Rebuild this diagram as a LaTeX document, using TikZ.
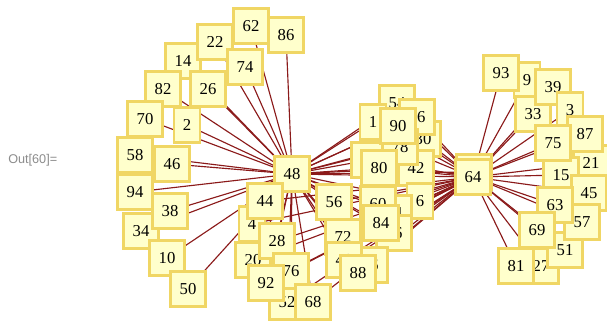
\documentclass[tikz,border=0pt]{standalone}
\usepackage{fontspec}
\setmainfont{Liberation Serif}
\newfontfamily\promptfont{Liberation Sans}
\usetikzlibrary{backgrounds}
\definecolor{vfill}{RGB}{255,255,204}
\definecolor{vframe}{RGB}{240,214,100}
\definecolor{edgered}{RGB}{139,26,26}

\begin{document}
\begin{tikzpicture}[x=0.75pt, y=-0.75pt,
  every node/.style={font=\fontsize{12.5}{14}\selectfont},
  vbox/.style={draw=vframe, fill=vfill, line width=1.6pt, minimum width=26.2pt, minimum height=26.2pt, inner sep=1pt},
  vone/.style={vbox, minimum width=19.4pt},
  edge/.style={draw=edgered, line width=0.85pt},
  prompt/.style={font=\promptfont\fontsize{9.5}{11}\selectfont, text=black!45, anchor=west, inner sep=0pt}]
  \useasboundingbox (0,0) rectangle (607,321);
  \node[prompt] (out) at (8,160) {Out[60]=};
  % left fan
  \node[vbox] (n14) at (183,61) {14};
  \node[vbox] (n22) at (215,42) {22};
  \node[vbox] (n62) at (251,26) {62};
  \node[vbox] (n86) at (286,35) {86};
  \node[vbox] (n74) at (245,67) {74};
  \node[vbox] (n26) at (208,89) {26};
  \node[vbox] (n82) at (163,89) {82};
  \node[vone] (n2) at (187,125) {2};
  \node[vbox] (n58) at (135,155) {58};
  \node[vbox] (n70) at (145,119) {70};
  \node[vbox] (n46) at (172,164) {46};
  \node[vbox] (n94) at (135,192) {94};
  \node[vbox] (n34) at (141,231) {34};
  \node[vbox] (n38) at (170,211) {38};
  \node[vbox] (n10) at (167,258) {10};
  \node[vbox] (n50) at (188,289) {50};
  % lower group
  \node[vone] (n4) at (252,224) {4};
  \node[vbox] (n52) at (287,302) {52};
  \node[vbox] (n20) at (253,260) {20};
  \node[vbox] (n48) at (292,174) {48};
  \node[vbox] (n44) at (265,201) {44};
  \node[vbox] (n28) at (277,241) {28};
  \node[vbox] (n76) at (291,271) {76};
  \node[vbox] (n92) at (266,283) {92};
  \node[vbox] (n68) at (313,302) {68};
  % middle group
  \node[vbox] (n12) at (369,160) {12};
  \node[vbox] (n30) at (423,139) {30};
  \node[vbox] (n54) at (397,103) {54};
  \node[vone] (n1) at (373,122) {1};
  \node[vbox] (n66) at (417,117) {66};
  \node[vbox] (n42) at (416,168) {42};
  \node[vbox] (n78) at (400,147) {78};
  \node[vbox] (n80) at (379,168) {80};
  \node[vbox] (n90) at (398,126) {90};
  \node[vone] (n6) at (420,201) {6};
  \node[vbox] (n24) at (394,213) {24};
  \node[vbox] (n36) at (394,233) {36};
  \node[vbox] (n60) at (378,204) {60};
  \node[vbox] (n84) at (381,223) {84};
  \node[vbox] (n72) at (343,237) {72};
  \node[vbox] (n56) at (334,202) {56};
  \node[vbox] (n16) at (370,265) {16};
  \node[vbox] (n40) at (344,260) {40};
  \node[vbox] (n88) at (358,273) {88};
  % right fan
  \node[vbox] (n32) at (474,172) {32};
  \node[vbox] (n64) at (473,177) {64};
  \node[vone] (n9) at (527,80) {9};
  \node[vbox] (n93) at (501,73) {93};
  \node[vbox] (n33) at (533,114) {33};
  \node[vbox] (n39) at (553,87) {39};
  \node[vone] (n3) at (570,110) {3};
  \node[vbox] (n21) at (591,163) {21};
  \node[vbox] (n87) at (585,134) {87};
  \node[vbox] (n15) at (561,175) {15};
  \node[vbox] (n75) at (553,143) {75};
  \node[vbox] (n45) at (589,193) {45};
  \node[vbox] (n27) at (541,266) {27};
  \node[vbox] (n51) at (565,250) {51};
  \node[vbox] (n57) at (582,222) {57};
  \node[vbox] (n63) at (555,205) {63};
  \node[vbox] (n69) at (537,230) {69};
  \node[vbox] (n81) at (516,266) {81};
  \begin{scope}[on background layer]
    \foreach \v in {62,86,22,74,14,26,82,70,2,58,46,94,38,34,10,50}
      \draw[edge] (n48) -- (n\v);
    \foreach \v in {93,9,39,33,3,75,87,21,15,45,63,57,69,51,27,81}
      \draw[edge] (n64) -- (n\v);
    \foreach \v in {44,4,28,20,76,92,52,68,56,72,40,88,16,24,36,84,60,6,42,80,12,78,30,66,54,1,90,32} {
      \draw[edge] (n48) -- (n\v);
      \draw[edge] (n64) -- (n\v);
    }
    \draw[edge] (n48) -- (n64);
  \end{scope}
\end{tikzpicture}
\end{document}
